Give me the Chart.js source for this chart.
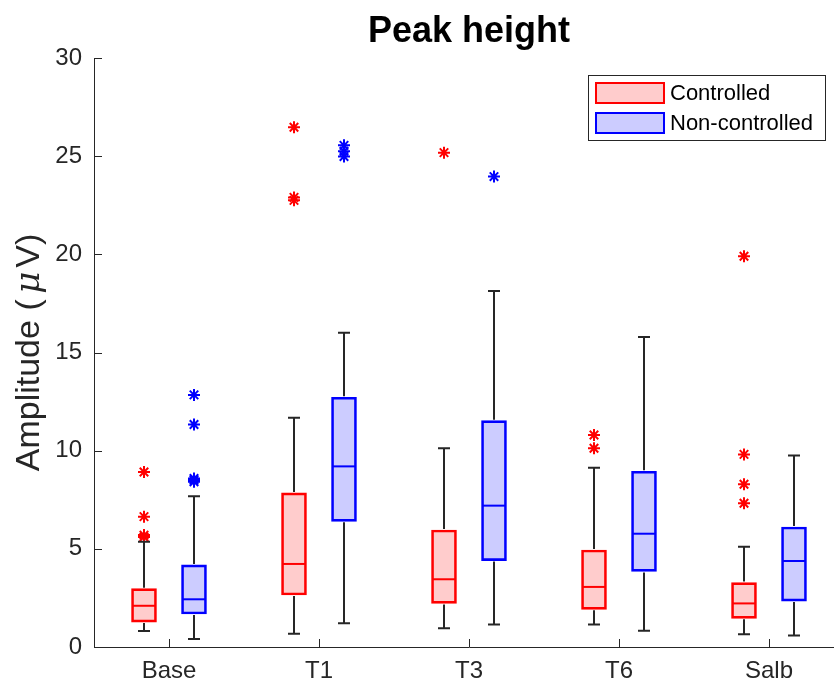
<!DOCTYPE html>
<html>
<head>
<meta charset="utf-8">
<script src="https://cdn.jsdelivr.net/npm/chart.js@4"></script>
<style>
  body { margin: 0; background: #fff; }
  #wrap { width: 834px; height: 684px; overflow: hidden; }
</style>
</head>
<body>
<div id="wrap"><canvas id="myChart" width="844" height="684"></canvas></div>
<script>
const categories = ["Base", "T1", "T3", "T6", "Salb"];

// Controlled
const ctrlLow = [0.82, 0.68, 0.95, 1.15, 0.65];
const ctrlQ1 = [1.27, 2.65, 2.22, 1.92, 1.46];
const ctrlMedian = [2.1, 4.23, 3.45, 3.06, 2.22];
const ctrlQ3 = [2.97, 7.85, 5.96, 4.94, 3.28];
const ctrlHigh = [5.36, 11.68, 10.12, 9.13, 5.11];
const ctrlOutliers = [[5.6, 5.7, 6.64, 8.91], [22.75, 22.9, 26.47], [25.18], [10.12, 10.8], [7.32, 8.29, 9.81, 19.9]];

// Non-controlled
const ncLow = [0.41, 1.21, 1.14, 0.83, 0.58];
const ncQ1 = [1.68, 6.4, 4.4, 3.85, 2.34];
const ncMedian = [2.43, 9.2, 7.2, 5.77, 4.38];
const ncQ3 = [4.18, 12.72, 11.53, 8.95, 6.11];
const ncHigh = [7.68, 16.0, 18.13, 15.79, 9.75];
const ncOutliers = [[8.42, 8.5, 8.58, 11.33, 12.84], [24.98, 25.25, 25.55], [23.96], [], []];

const yTicks = [0, 5, 10, 15, 20, 25, 30];

const red = "#ff0000";
const blue = "#0000ff";
const axisColor = "#262626";
const font = "'Liberation Sans', Arial, Helvetica, sans-serif";
const shift = 1 / 6; // half distance between the two boxes of a group

function boxPoints(q1, q3, dx) {
  return q1.map((v, i) => ({ x: i + 1 + dx, y: [v, q3[i]] }));
}

function outlierPoints(list, dx) {
  const pts = [];
  list.forEach((vals, i) => {
    vals.forEach((v) => pts.push({ x: i + 1 + dx, y: v }));
  });
  return pts;
}

const boxStats = [
  { low: ctrlLow, q1: ctrlQ1, q3: ctrlQ3, med: ctrlMedian, high: ctrlHigh, color: red },
  { low: ncLow, q1: ncQ1, q3: ncQ3, med: ncMedian, high: ncHigh, color: blue },
];

// whiskers, caps and medians around the floating bars
const boxPlugin = {
  id: "boxParts",
  afterDatasetsDraw(chart) {
    const ctx = chart.ctx;
    const y = chart.scales.y;
    boxStats.forEach((s, di) => {
      const meta = chart.getDatasetMeta(di);
      meta.data.forEach((bar, j) => {
        const x = bar.x;
        const half = bar.width / 2;
        const yHi = y.getPixelForValue(s.high[j]);
        const yLo = y.getPixelForValue(s.low[j]);
        ctx.save();
        ctx.strokeStyle = "#262626";
        ctx.lineWidth = 2;
        ctx.beginPath();
        ctx.moveTo(x, y.getPixelForValue(s.q3[j]) - 1);
        ctx.lineTo(x, yHi);
        ctx.moveTo(x - 6, yHi);
        ctx.lineTo(x + 6, yHi);
        ctx.moveTo(x, y.getPixelForValue(s.q1[j]) + 1);
        ctx.lineTo(x, yLo);
        ctx.moveTo(x - 6, yLo);
        ctx.lineTo(x + 6, yLo);
        ctx.stroke();
        ctx.strokeStyle = s.color;
        ctx.beginPath();
        const ym = y.getPixelForValue(s.med[j]);
        ctx.moveTo(x - half + 1, ym);
        ctx.lineTo(x + half - 1, ym);
        ctx.stroke();
        ctx.restore();
      });
    });
  },
};

// inward tick marks, titles and framed legend
const decorPlugin = {
  id: "decor",
  afterDraw(chart) {
    const ctx = chart.ctx;
    const { left, right, top, bottom } = chart.chartArea;
    const xs = chart.scales.x;
    const ys = chart.scales.y;
    ctx.save();
    ctx.strokeStyle = axisColor;
    ctx.lineWidth = 1;
    ctx.beginPath();
    ys.ticks.forEach((t) => {
      const py = Math.round(ys.getPixelForValue(t.value)) + 0.5;
      ctx.moveTo(left, py);
      ctx.lineTo(left + 8, py);
    });
    xs.ticks.forEach((t) => {
      const px = Math.round(xs.getPixelForValue(t.value)) + 0.5;
      ctx.moveTo(px, bottom);
      ctx.lineTo(px, bottom - 8);
    });
    ctx.stroke();

    // title
    ctx.fillStyle = "#000";
    ctx.font = "bold 36px " + font;
    ctx.textAlign = "center";
    ctx.textBaseline = "alphabetic";
    ctx.fillText("Peak height", (left + right) / 2, 42);

    // y axis title with italic mu
    const parts = [
      { t: "Amplitude (", f: "34px " + font },
      { t: " ", f: "20px " + font },
      { t: "μ", f: "italic 34px 'DejaVu Serif', serif" },
      { t: " ", f: "14px " + font },
      { t: "V)", f: "34px " + font },
    ];
    let total = 0;
    parts.forEach((p) => { ctx.font = p.f; p.w = ctx.measureText(p.t).width; total += p.w; });
    ctx.translate(39, (top + bottom) / 2);
    ctx.rotate(-Math.PI / 2);
    ctx.textAlign = "left";
    ctx.fillStyle = axisColor;
    let cx = -total / 2;
    parts.forEach((p) => { ctx.font = p.f; ctx.fillText(p.t, cx, 0); cx += p.w; });
    ctx.restore();

    // legend
    ctx.save();
    const lx = 588.5, ly = 75.5, lw = 237, lh = 65;
    ctx.fillStyle = "#fff";
    ctx.fillRect(lx, ly, lw, lh);
    ctx.strokeStyle = "#262626";
    ctx.lineWidth = 1;
    ctx.strokeRect(lx, ly, lw, lh);
    chart.data.datasets.slice(0, 2).forEach((ds, i) => {
      const sy = 82 + i * 30;
      ctx.fillStyle = ds.backgroundColor;
      ctx.fillRect(595, sy, 70, 22);
      ctx.strokeStyle = ds.borderColor;
      ctx.lineWidth = 2;
      ctx.strokeRect(596, sy + 1, 68, 20);
      ctx.fillStyle = "#000";
      ctx.font = "22px " + font;
      ctx.textAlign = "left";
      ctx.textBaseline = "middle";
      ctx.fillText(ds.label, 670, sy + 12);
    });
    ctx.restore();
  },
};

const data = {
  datasets: [
    {
      label: "Controlled",
      data: boxPoints(ctrlQ1, ctrlQ3, -shift),
      backgroundColor: "rgba(255,0,0,0.2)",
      borderColor: red,
      borderWidth: 2,
      borderSkipped: false,
      grouped: false,
      barThickness: 25,
    },
    {
      label: "Non-controlled",
      data: boxPoints(ncQ1, ncQ3, shift),
      backgroundColor: "rgba(0,0,255,0.2)",
      borderColor: blue,
      borderWidth: 2,
      borderSkipped: false,
      grouped: false,
      barThickness: 25,
    },
    {
      type: "scatter",
      label: "Controlled outliers",
      data: outlierPoints(ctrlOutliers, -shift),
      pointStyle: "star",
      pointRadius: 6,
      borderColor: red,
      borderWidth: 2,
    },
    {
      type: "scatter",
      label: "Non-controlled outliers",
      data: outlierPoints(ncOutliers, shift),
      pointStyle: "star",
      pointRadius: 6,
      borderColor: blue,
      borderWidth: 2,
    },
  ],
};

const config = {
  type: "bar",
  data: data,
  options: {
    responsive: false,
    animation: false,
    layout: { autoPadding: false, padding: { top: 58, left: 0, right: 0, bottom: 0 } },
    plugins: {
      legend: { display: false },
      title: { display: false },
      tooltip: { enabled: false },
    },
    scales: {
      x: {
        type: "linear",
        min: 0.5,
        max: 5.5,
        offset: false,
        afterBuildTicks: (scale) => { scale.ticks = categories.map((c, i) => ({ value: i + 1 })); },
        grid: { display: false, drawTicks: false, offset: false },
        border: { display: true, color: axisColor, width: 1 },
        ticks: {
          color: axisColor,
          font: { size: 24, family: font },
          padding: 10,
          maxRotation: 0,
          autoSkip: false,
          callback: (v) => categories[Math.round(v) - 1],
        },
        afterFit: (scale) => { scale.height = 37; },
      },
      y: {
        min: 0,
        max: 30,
        afterBuildTicks: (scale) => { scale.ticks = yTicks.map((v) => ({ value: v })); },
        grid: { display: false, drawTicks: false },
        border: { display: true, color: axisColor, width: 1 },
        ticks: { color: axisColor, font: { size: 24, family: font }, padding: 12 },
        afterFit: (scale) => { scale.width = 94; },
      },
    },
  },
  plugins: [boxPlugin, decorPlugin],
};

const myChart = new Chart(document.querySelector("#myChart").getContext("2d"), config);
</script>
</body>
</html>
